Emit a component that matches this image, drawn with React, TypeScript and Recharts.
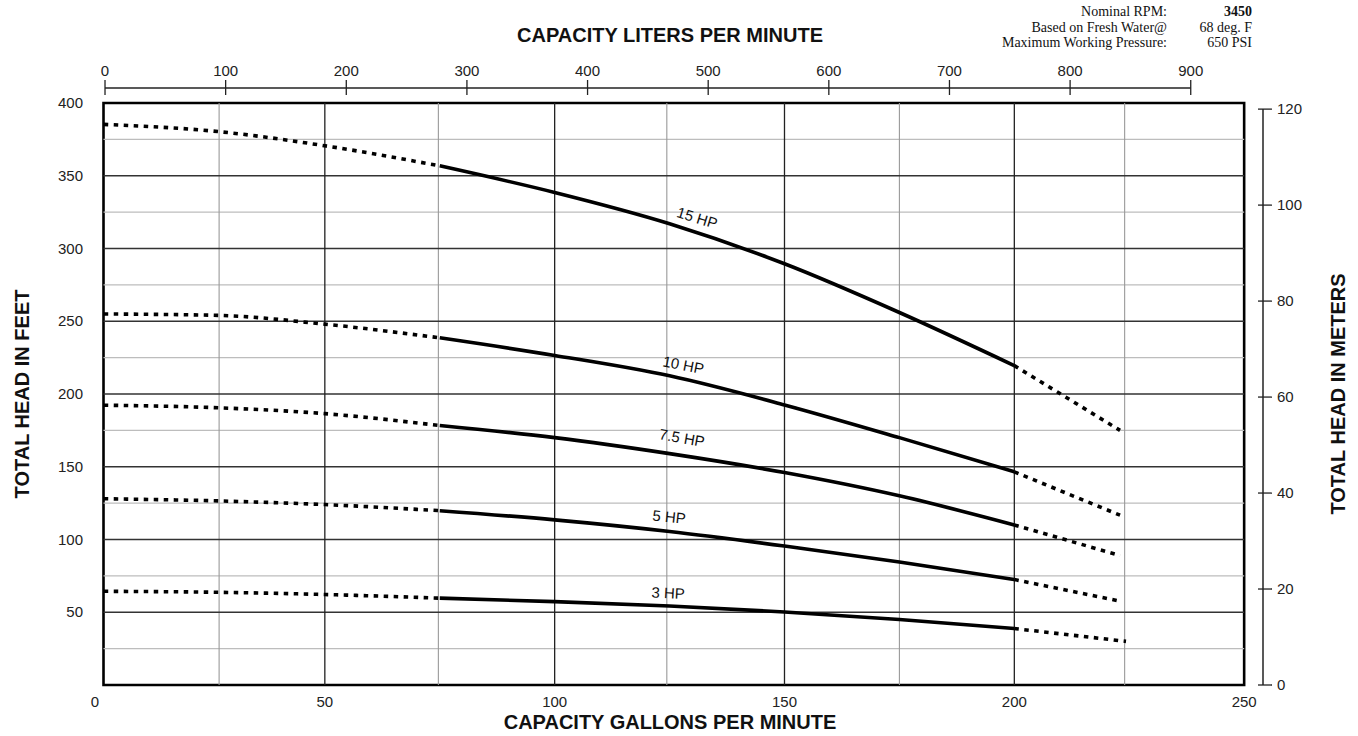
import React from 'react';
import {
  ComposedChart,
  Line,
  XAxis,
  YAxis,
  ReferenceLine,
  ReferenceArea,
  ReferenceDot,
} from 'recharts';

// ---------- data ----------
const curveGpm = [1.9, 27, 50, 75, 100, 125, 150, 175, 200];
const hp15 = [385.3, 380.3, 370.6, 356.8, 338.5, 317, 289.5, 256, 219.5];
const hp10 = [255, 254, 248, 238.6, 226.5, 212.5, 192.5, 170, 146.5];
const hp75 = [192.3, 190.5, 186.5, 178.3, 170, 159, 146, 130, 110];
const hp5 = [128, 126.5, 124, 119.8, 113.5, 105.5, 95.5, 84.5, 72.5];
const hp3 = [64.4, 63.7, 62.2, 59.7, 57.3, 54.3, 50.2, 45, 38.8];
const endGpm = [223, 223, 223, 222.5, 224.3];
const endHead = [175, 116.7, 89, 58, 30];
const curves = [hp15, hp10, hp75, hp5, hp3];

const hpLabels = ['15 HP', '10 HP', '7.5 HP', '5 HP', '3 HP'];
const labelGpm = [131, 128, 127.7, 124.9, 124.7];
const labelHead = [321, 219.9, 169.8, 115.5, 63.2];
const labelAngle = [17, 11, 10, 6, 3];

const gpmTicks = [0, 50, 100, 150, 200, 250];
const lpmTicks = [0, 100, 200, 300, 400, 500, 600, 700, 800, 900];
const feetTicks = [50, 100, 150, 200, 250, 300, 350, 400];
const meterTicks = [0, 20, 40, 60, 80, 100, 120];

const majorGpm = [50, 100, 150, 200];
const minorGpm = [27, 74.7, 124.4, 175, 224];
const majorFeet = [50, 100, 150, 200, 250, 300, 350];
const minorFeet = [25, 75, 125, 175, 225, 275, 325, 375];

// plot frame / axis extents (data units)
const GPM_DOMAIN: [number, number] = [0, 254.1];
const LPM_DOMAIN: [number, number] = [-8.3, 959.9];
const FEET_DOMAIN: [number, number] = [0, 410.3];
const METER_DOMAIN: [number, number] = [0, 124.4];
const BOX_GPM: [number, number] = [1.85, 250];
const BOX_FEET: [number, number] = [0, 400];

const FONT = '"Liberation Sans", Arial, Helvetica, sans-serif';
const SERIF = '"Liberation Serif", "Times New Roman", serif';

type Pt = { x: number; y: number; lpm?: number };
function toPts(xs: number[], ys: number[]): Pt[] {
  return xs.map((x, i) => ({ x, y: ys[i] }));
}

const segments = curves.map((c, i) => {
  const all = toPts(curveGpm, c);
  return {
    startDots: all.slice(0, 4),
    solid: all.slice(3),
    endDots: [all[all.length - 1], { x: endGpm[i], y: endHead[i] }],
  };
});

// invisible helper series so the liters axis has data bound to it
const lpmData = lpmTicks.map((v) => ({ lpm: v, y: 0 }));

const LeftTick = (p: any) => (
  <text x={p.x - 12} y={p.y} dy="0.35em" textAnchor="end" fontFamily={FONT} fontSize={15} fill="#222">
    {p.payload.value}
  </text>
);
const BottomTick = (p: any) => (
  <text x={p.x} y={p.y + 17} dy="0.35em" textAnchor="middle" fontFamily={FONT} fontSize={15} fill="#222">
    {p.payload.value}
  </text>
);
const TopTick = (p: any) => (
  <g>
    <line x1={p.x} x2={p.x} y1={p.y - 8} y2={p.y + 7} stroke="#222" strokeWidth={1.3} />
    <text x={p.x} y={p.y - 17} dy="0.35em" textAnchor="middle" fontFamily={FONT} fontSize={15} fill="#222">
      {p.payload.value}
    </text>
  </g>
);
const RightTick = (p: any) => (
  <g>
    <line x1={p.x - 5} x2={p.x + 9} y1={p.y} y2={p.y} stroke="#222" strokeWidth={1.3} />
    <text x={p.x + 14} y={p.y} dy="0.35em" textAnchor="start" fontFamily={FONT} fontSize={15} fill="#222">
      {p.payload.value}
    </text>
  </g>
);

const titleStyle: React.CSSProperties = {
  position: 'absolute',
  fontFamily: FONT,
  fontWeight: 'bold',
  fontSize: 20,
  color: '#111',
  whiteSpace: 'nowrap',
  lineHeight: 1,
};

export default function App() {
  return (
    <div style={{ position: 'absolute', left: 0, top: 0, width: 1358, height: 736, background: '#fff' }}>
      <ComposedChart width={1358} height={736} margin={{ top: 0, right: 0, bottom: 0, left: 0 }}>
        <XAxis
          xAxisId="bottom"
          orientation="bottom"
          dataKey="x"
          type="number"
          domain={GPM_DOMAIN}
          allowDataOverflow
          ticks={gpmTicks}
          interval={0}
          height={51}
          tickSize={0}
          tickMargin={0}
          tickLine={false}
          axisLine={false}
          tick={BottomTick}
        />
        <XAxis
          xAxisId="top"
          orientation="top"
          dataKey="lpm"
          type="number"
          domain={LPM_DOMAIN}
          allowDataOverflow
          ticks={lpmTicks}
          interval={0}
          height={88}
          tickSize={0}
          tickMargin={0}
          tickLine={false}
          axisLine={false}
          tick={TopTick}
        />
        <YAxis
          yAxisId="left"
          orientation="left"
          type="number"
          domain={FEET_DOMAIN}
          allowDataOverflow
          ticks={feetTicks}
          interval={0}
          width={95}
          tickSize={0}
          tickMargin={0}
          tickLine={false}
          axisLine={false}
          tick={LeftTick}
        />
        <YAxis
          yAxisId="right"
          orientation="right"
          type="number"
          domain={METER_DOMAIN}
          allowDataOverflow
          ticks={meterTicks}
          interval={0}
          width={95}
          tickSize={0}
          tickMargin={0}
          tickLine={false}
          axisLine={false}
          tick={RightTick}
        />

        <Line
          xAxisId="top"
          yAxisId="left"
          data={lpmData}
          dataKey="y"
          stroke="none"
          strokeWidth={0}
          dot={false}
          activeDot={false}
          legendType="none"
          isAnimationActive={false}
        />

        {minorFeet.map((f) => (
          <ReferenceLine
            key={'mf' + f}
            xAxisId="bottom"
            yAxisId="left"
            ifOverflow="visible"
            segment={[{ x: BOX_GPM[0], y: f }, { x: BOX_GPM[1], y: f }]}
            stroke="#bdbdbd"
            strokeWidth={1.2}
          />
        ))}
        {minorGpm.map((g) => (
          <ReferenceLine
            key={'mg' + g}
            xAxisId="bottom"
            yAxisId="left"
            ifOverflow="visible"
            segment={[{ x: g, y: BOX_FEET[0] }, { x: g, y: BOX_FEET[1] }]}
            stroke="#999"
            strokeWidth={1.1}
          />
        ))}
        {majorFeet.map((f) => (
          <ReferenceLine
            key={'Mf' + f}
            xAxisId="bottom"
            yAxisId="left"
            ifOverflow="visible"
            segment={[{ x: BOX_GPM[0], y: f }, { x: BOX_GPM[1], y: f }]}
            stroke="#333"
            strokeWidth={1.3}
          />
        ))}
        {majorGpm.map((g) => (
          <ReferenceLine
            key={'Mg' + g}
            xAxisId="bottom"
            yAxisId="left"
            ifOverflow="visible"
            segment={[{ x: g, y: BOX_FEET[0] }, { x: g, y: BOX_FEET[1] }]}
            stroke="#222"
            strokeWidth={1.3}
          />
        ))}
        <ReferenceArea
          xAxisId="bottom"
          yAxisId="left"
          x1={BOX_GPM[0]}
          x2={BOX_GPM[1]}
          y1={BOX_FEET[0]}
          y2={BOX_FEET[1]}
          ifOverflow="visible"
          fill="none"
          fillOpacity={0}
          stroke="#000"
          strokeWidth={2.6}
        />
        {/* top axis line (0..900 LPM) */}
        <ReferenceLine
          xAxisId="top"
          yAxisId="left"
          ifOverflow="visible"
          segment={[{ x: lpmTicks[0], y: FEET_DOMAIN[1] }, { x: lpmTicks[lpmTicks.length - 1], y: FEET_DOMAIN[1] }]}
          stroke="#222"
          strokeWidth={1.5}
        />
        {/* right axis line (0..120 m) */}
        <ReferenceLine
          xAxisId="bottom"
          yAxisId="right"
          ifOverflow="visible"
          segment={[{ x: GPM_DOMAIN[1], y: meterTicks[0] }, { x: GPM_DOMAIN[1], y: meterTicks[meterTicks.length - 1] }]}
          stroke="#222"
          strokeWidth={1.5}
        />

        {segments.map((s, i) => (
          <Line
            key={'d0' + i}
            xAxisId="bottom"
            yAxisId="left"
            data={s.startDots}
            dataKey="y"
            type="monotone"
            stroke="#000"
            strokeWidth={3.6}
            strokeDasharray="4.5 5.5"
            dot={false}
            activeDot={false}
            isAnimationActive={false}
          />
        ))}
        {segments.map((s, i) => (
          <Line
            key={'s' + i}
            xAxisId="bottom"
            yAxisId="left"
            data={s.solid}
            dataKey="y"
            type="monotone"
            stroke="#000"
            strokeWidth={3.6}
            dot={false}
            activeDot={false}
            isAnimationActive={false}
          />
        ))}
        {segments.map((s, i) => (
          <Line
            key={'d1' + i}
            xAxisId="bottom"
            yAxisId="left"
            data={s.endDots}
            dataKey="y"
            type="monotone"
            stroke="#000"
            strokeWidth={3.6}
            strokeDasharray="4.5 5.5"
            dot={false}
            activeDot={false}
            isAnimationActive={false}
          />
        ))}

        {hpLabels.map((t, i) => (
          <ReferenceDot
            key={'lbl' + i}
            xAxisId="bottom"
            yAxisId="left"
            x={labelGpm[i]}
            y={labelHead[i]}
            r={0}
            ifOverflow="visible"
            shape={(p: any) => (
              <text
                x={p.cx}
                y={p.cy}
                dy="0.35em"
                textAnchor="middle"
                fontFamily={FONT}
                fontSize={15}
                fill="#111"
                transform={`rotate(${labelAngle[i]} ${p.cx} ${p.cy})`}
              >
                {t}
              </text>
            )}
          />
        ))}
      </ComposedChart>

      <div style={{ ...titleStyle, left: 670, top: 35, transform: 'translate(-50%, -50%)' }}>
        CAPACITY LITERS PER MINUTE
      </div>
      <div style={{ ...titleStyle, left: 670, top: 722, transform: 'translate(-50%, -50%)' }}>
        CAPACITY GALLONS PER MINUTE
      </div>
      <div style={{ ...titleStyle, left: 22, top: 394, transform: 'translate(-50%, -50%) rotate(-90deg)' }}>
        TOTAL HEAD IN FEET
      </div>
      <div style={{ ...titleStyle, left: 1338, top: 394, transform: 'translate(-50%, -50%) rotate(-90deg)' }}>
        TOTAL HEAD IN METERS
      </div>

      <div
        style={{
          position: 'absolute',
          left: 960,
          top: 4,
          fontFamily: SERIF,
          fontSize: 14,
          lineHeight: '15.5px',
          color: '#111',
          display: 'grid',
          gridTemplateColumns: '207px 85px',
        }}
      >
        <div style={{ textAlign: 'right' }}>Nominal RPM:</div>
        <div style={{ textAlign: 'right', fontWeight: 'bold' }}>3450</div>
        <div style={{ textAlign: 'right' }}>Based on Fresh Water@</div>
        <div style={{ textAlign: 'right' }}>68 deg. F</div>
        <div style={{ textAlign: 'right' }}>Maximum Working Pressure:</div>
        <div style={{ textAlign: 'right' }}>650 PSI</div>
      </div>
    </div>
  );
}
